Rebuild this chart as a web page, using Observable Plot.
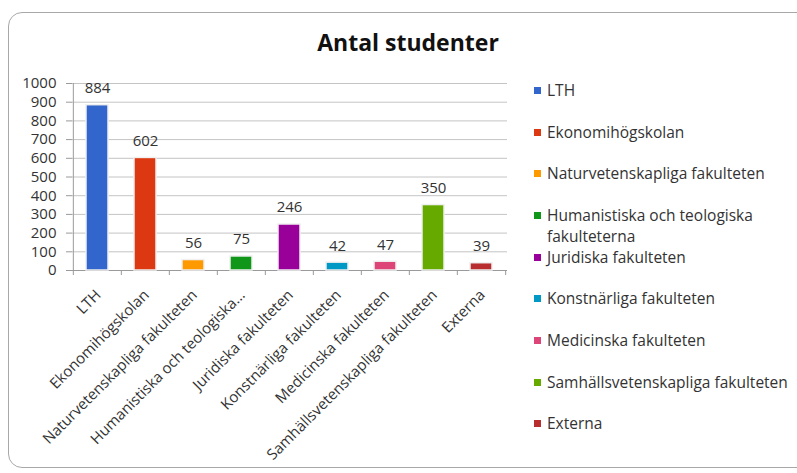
<!DOCTYPE html>
<html>
<head>
<meta charset="utf-8">
<script src="https://cdn.jsdelivr.net/npm/d3@7"></script>
<script src="https://cdn.jsdelivr.net/npm/@observablehq/plot@0.6"></script>
<style>
  html, body { margin: 0; padding: 0; background: #fff; overflow: hidden; }
  #wrap { position: relative; width: 797px; height: 473px; overflow: hidden; font-family: "Open Sans", sans-serif; }
  #frame { position: absolute; left: 8px; top: 12px; width: 820px; height: 456px; border: 1.5px solid #a8a8a8; border-radius: 14px; box-sizing: border-box; }
  #title { position: absolute; left: 0; top: 26px; width: 816px; text-align: center; font-weight: bold; font-size: 23px; color: #111; }
  #chart { position: absolute; left: 0; top: 0; }
  #legend { position: absolute; left: 534px; top: 0; font-size: 15.5px; color: #333; }
  .item { position: absolute; left: 0; width: 262px; line-height: 21px; }
  .sw { position: absolute; left: 0; top: 7px; width: 7px; height: 7px; }
  .lab { position: absolute; left: 13px; width: 249px; white-space: normal; }
</style>
</head>
<body>
<div id="wrap">
  <div id="frame"></div>
  <div id="chart"></div>
  <div id="title">Antal studenter</div>
  <div id="legend"></div>
</div>
<script>
const categories = [
  "LTH",
  "Ekonomihögskolan",
  "Naturvetenskapliga fakulteten",
  "Humanistiska och teologiska fakulteterna",
  "Juridiska fakulteten",
  "Konstnärliga fakulteten",
  "Medicinska fakulteten",
  "Samhällsvetenskapliga fakulteten",
  "Externa"
];
const axisLabels = [
  "LTH",
  "Ekonomihögskolan",
  "Naturvetenskapliga fakulteten",
  "Humanistiska och teologiska...",
  "Juridiska fakulteten",
  "Konstnärliga fakulteten",
  "Medicinska fakulteten",
  "Samhällsvetenskapliga fakulteten",
  "Externa"
];
const students = [884, 602, 56, 75, 246, 42, 47, 350, 39];
const colors = ["#3366cc", "#dc3912", "#ff9900", "#109618", "#990099", "#0099c6", "#dd4477", "#66aa00", "#b82e2e"];
const yTicks = [0, 100, 200, 300, 400, 500, 600, 700, 800, 900, 1000];
const legendY = [90, 132, 173, 215, 257, 298, 340, 382, 423];

const data = categories.map((c, i) => ({ category: c, value: students[i] }));
const labelOf = new Map(categories.map((c, i) => [c, axisLabels[i]]));
const halfStep = (797 - 290 - 72) / categories.length / 2;

const plot = Plot.plot({
  width: 797,
  height: 473,
  marginLeft: 72,
  marginRight: 290,
  marginTop: 83,
  marginBottom: 203,
  style: { fontFamily: "Open Sans, sans-serif", fontSize: "15px", color: "#333", background: "transparent" },
  x: { domain: categories, paddingInner: 0.54, paddingOuter: 0.27, label: null },
  y: { domain: [0, 1000], label: null },
  color: { domain: categories, range: colors },
  marks: [
    Plot.gridY(yTicks, { stroke: "#c4c4c4", strokeOpacity: 1, strokeWidth: 1 }),
    Plot.ruleX([categories[0]], { dx: -halfStep, stroke: "#9a9a9a" }),
    Plot.axisY({ ticks: yTicks, tickSize: 6, tickPadding: 10, fontSize: 15, stroke: "#9a9a9a", fill: "#333", tickFormat: d => String(d) }),
    Plot.axisX({ tickSize: 0, tickRotate: -45, tickPadding: 22, dx: 1, fontSize: 15, fill: "#333", tickFormat: d => labelOf.get(d) }),
    Plot.ruleX(categories, { dx: -halfStep, y1: 0, y2: 0, insetBottom: -5, stroke: "#9a9a9a" }),
    Plot.ruleX([categories[categories.length - 1]], { dx: halfStep, y1: 0, y2: 0, insetBottom: -5, stroke: "#9a9a9a" }),
    Plot.ruleY([0], { stroke: "#9a9a9a" }),
    Plot.barY(data, { x: "category", y: "value", fill: "category", stroke: "#f0f0f0", strokeWidth: 1.5 }),
    Plot.text(data, { x: "category", y: "value", text: d => String(d.value), dy: -12, lineAnchor: "bottom", fontSize: 15, fill: "#333" })
  ]
});
document.getElementById("chart").appendChild(plot);

const legend = document.getElementById("legend");
categories.forEach((c, i) => {
  const item = document.createElement("div");
  item.className = "item";
  item.style.top = (legendY[i] - 10.5) + "px";
  const sw = document.createElement("div");
  sw.className = "sw";
  sw.style.background = colors[i];
  const lab = document.createElement("div");
  lab.className = "lab";
  lab.textContent = c;
  item.appendChild(sw);
  item.appendChild(lab);
  legend.appendChild(item);
});
</script>
</body>
</html>
